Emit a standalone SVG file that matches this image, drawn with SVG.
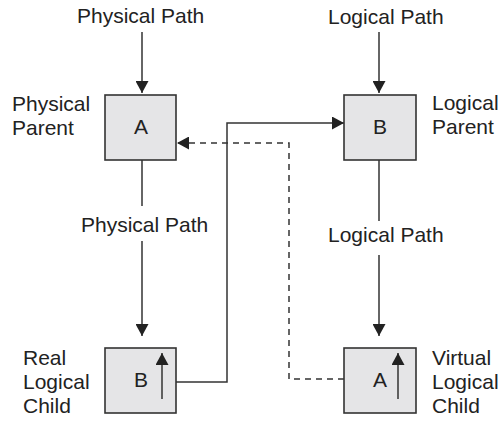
<svg xmlns="http://www.w3.org/2000/svg" width="498" height="421" viewBox="0 0 498 421">
<style>
text{font-family:"Liberation Sans",Arial,sans-serif;font-size:21px;fill:#222}
.box{fill:#e5e5e7;stroke:#333;stroke-width:1.6}
.ln{fill:none;stroke:#333;stroke-width:1.5}
.dash{fill:none;stroke:#333;stroke-width:1.5;stroke-dasharray:6,5}
.mid{text-anchor:middle}
</style>
<defs>
<marker id="ah" viewBox="0 0 12 13" refX="12" refY="6.5" markerWidth="12" markerHeight="13" markerUnits="userSpaceOnUse" orient="auto">
<path d="M0,0 L12,6.5 L0,13 Z" fill="#222"/>
</marker>
</defs>
<g id="connectors">
<line class="ln" x1="142" y1="32" x2="142" y2="93" marker-end="url(#ah)"/>
<line class="ln" x1="379" y1="32" x2="379" y2="93" marker-end="url(#ah)"/>
<line class="ln" x1="142" y1="151" x2="142" y2="206"/>
<line class="ln" x1="142" y1="241" x2="142" y2="336" marker-end="url(#ah)"/>
<line class="ln" x1="379" y1="151" x2="379" y2="221"/>
<line class="ln" x1="379" y1="255" x2="379" y2="336" marker-end="url(#ah)"/>
<polyline class="ln" points="176,382 227,382 227,123 344,123" marker-end="url(#ah)"/>
<polyline class="dash" points="344,379 289,379 289,143 177,143" marker-end="url(#ah)"/>
<text x="81" y="232">Physical Path</text>
<text x="328" y="242">Logical Path</text>
<text x="77" y="23">Physical Path</text>
<text x="328" y="24">Logical Path</text>
</g>
<g id="physical-parent">
<rect class="box" x="105" y="95" width="71" height="65"/>
<text class="mid" x="141" y="134">A</text>
<text x="12" y="111">Physical</text>
<text x="12" y="135">Parent</text>
</g>
<g id="logical-parent">
<rect class="box" x="344" y="95" width="72" height="65"/>
<text class="mid" x="380" y="134">B</text>
<text x="432" y="110">Logical</text>
<text x="432" y="134">Parent</text>
</g>
<g id="real-logical-child">
<rect class="box" x="105" y="348" width="71" height="65"/>
<text class="mid" x="141" y="387">B</text>
<line class="ln" x1="162" y1="399" x2="162" y2="353" marker-end="url(#ah)"/>
<text x="23" y="365">Real</text>
<text x="23" y="389">Logical</text>
<text x="23" y="413">Child</text>
</g>
<g id="virtual-logical-child">
<rect class="box" x="344" y="348" width="72" height="65"/>
<text class="mid" x="380" y="387">A</text>
<line class="ln" x1="398" y1="399" x2="398" y2="353" marker-end="url(#ah)"/>
<text x="432" y="365">Virtual</text>
<text x="432" y="389">Logical</text>
<text x="432" y="413">Child</text>
</g>
</svg>
